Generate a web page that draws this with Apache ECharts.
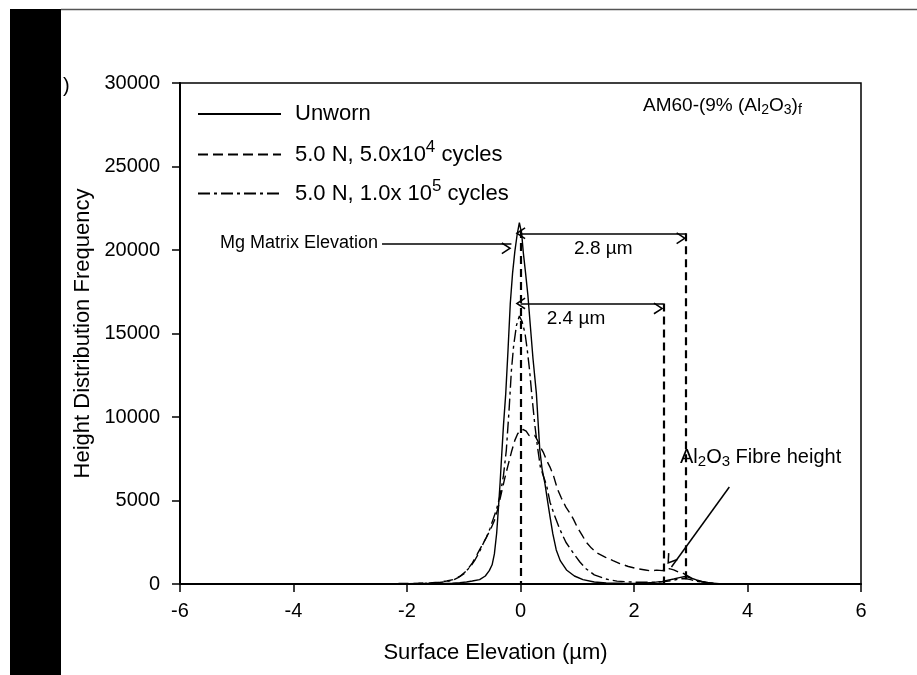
<!DOCTYPE html>
<html><head><meta charset="utf-8">
<script src="https://cdn.jsdelivr.net/npm/echarts@6/dist/echarts.min.js"></script>
<style>html,body{margin:0;padding:0;background:#fff}#c{width:917px;height:675px}</style>
</head><body><div id="c"></div><script>
const FONT = "'Liberation Sans', Arial, sans-serif";

// ---- data ----
const seriesNames = ['Unworn', '5.0 N, 5.0x10^4 cycles', '5.0 N, 1.0x 10^5 cycles'];
const legendLabels = ['Unworn', '5.0 N, 5.0x10{sup|4} cycles', '5.0 N, 1.0x 10{sup|5} cycles'];

const unworn = [[-4.0,5],[-3.6,10],[-3.2,8],[-2.8,15],[-2.4,12],[-2.0,20],[-1.8,25],[-1.6,30],[-1.4,40],[-1.2,50],[-1.07,80],[-0.95,120],[-0.85,180],[-0.72,260],[-0.62,480],[-0.55,800],[-0.5,1150],[-0.46,1800],[-0.42,3040],[-0.39,4500],[-0.36,6030],[-0.33,7800],[-0.3,9500],[-0.26,11400],[-0.22,14000],[-0.18,16800],[-0.14,18600],[-0.1,19900],[-0.06,20900],[-0.02,21640],[0.02,21000],[0.05,19830],[0.09,18600],[0.13,17300],[0.17,15600],[0.22,13500],[0.28,11400],[0.31,9700],[0.34,8030],[0.38,6900],[0.43,6030],[0.48,4900],[0.52,4030],[0.57,3000],[0.63,2040],[0.7,1400],[0.81,840],[0.95,480],[1.1,260],[1.3,120],[1.51,60],[1.8,45],[2.0,40],[2.2,60],[2.35,100],[2.5,160],[2.6,230],[2.7,300],[2.8,380],[2.9,450],[2.95,420],[3.0,360],[3.1,250],[3.2,150],[3.3,90],[3.4,50],[3.5,25],[3.6,10]];

const cycles5e4 = [[-4.0,0],[-3.5,5],[-3.0,10],[-2.5,20],[-2.0,30],[-1.8,45],[-1.6,70],[-1.45,110],[-1.3,180],[-1.19,260],[-1.07,450],[-0.95,800],[-0.85,1250],[-0.76,1800],[-0.68,2300],[-0.6,2800],[-0.53,3250],[-0.46,3800],[-0.4,4500],[-0.34,5400],[-0.28,6300],[-0.22,7100],[-0.16,7900],[-0.1,8600],[-0.05,9000],[0.0,9200],[0.05,9250],[0.1,9150],[0.15,8900],[0.2,8850],[0.25,8900],[0.3,8600],[0.35,8200],[0.4,7900],[0.46,7400],[0.52,7000],[0.58,6500],[0.65,5700],[0.72,5150],[0.8,4600],[0.87,4250],[0.93,3900],[1.0,3400],[1.08,2950],[1.16,2500],[1.25,2150],[1.35,1850],[1.5,1600],[1.63,1400],[1.75,1220],[1.9,1050],[2.05,920],[2.2,840],[2.3,780],[2.4,830],[2.5,800],[2.55,880],[2.62,920],[2.7,850],[2.78,720],[2.86,650],[2.93,520],[3.0,380],[3.1,220],[3.2,120],[3.35,50],[3.5,10]];

const cycles1e5 = [[-4.0,0],[-3.5,5],[-3.0,10],[-2.5,15],[-2.0,20],[-1.7,40],[-1.5,70],[-1.35,120],[-1.2,220],[-1.1,380],[-1.0,600],[-0.95,800],[-0.88,1050],[-0.8,1450],[-0.72,1950],[-0.66,2400],[-0.6,2800],[-0.54,3300],[-0.48,3900],[-0.42,4500],[-0.36,5300],[-0.3,6500],[-0.25,8000],[-0.2,10500],[-0.16,12800],[-0.12,14300],[-0.07,15500],[-0.02,16050],[0.03,15700],[0.08,15000],[0.12,14000],[0.16,12800],[0.2,11300],[0.25,9600],[0.3,8200],[0.35,7000],[0.4,6500],[0.46,5900],[0.52,4900],[0.6,4100],[0.69,3300],[0.8,2500],[0.93,1850],[1.05,1300],[1.16,900],[1.3,550],[1.5,300],[1.7,170],[2.0,110],[2.3,100],[2.5,130],[2.65,200],[2.8,300],[2.9,330],[3.0,260],[3.1,160],[3.25,80],[3.4,30],[3.55,5]];

// annotation positions (data coordinates)
const matrixElev = 0.0;
const fibreElev5e4 = 2.92;
const fibreElev1e5 = 2.52;
const arrowLevel28 = 21000;
const arrowLevel24 = 16800;
const mgArrow = [[-2.44, 20400], [-0.16, 20400]];
const fibreArrow = [[3.68, 5810], [2.66, 1020]];
const annotationLabels = ['2.8 \u00b5m', '2.4 \u00b5m'];

// ---- chart ----
const chevron = 'path://M5,0 L10,8.6 L8.9,9.4 L5,2.6 L1.1,9.4 L0,8.6 Z';
const lineTypes = ['solid', [10, 5], [12, 4, 3, 4]];
const dataSets = [unworn, cycles5e4, cycles1e5];
const chart = echarts.init(document.getElementById('c'), null, {renderer: 'canvas'});

const arrowStyle = {color: '#000', width: 1.5, type: 'solid'};
const vStyle = {color: '#000', width: 2.2, type: [8, 5]};

const series = dataSets.map((d, i) => ({
  name: seriesNames[i], type: 'line', data: d, symbol: 'none', smooth: false,
  lineStyle: {color: '#000', width: 1.4, type: lineTypes[i]},
  itemStyle: {color: '#000'}, z: 3,
  animation: false
}));
series[0].markLine = {
  silent: true, animation: false, symbolSize: [12, 10], symbolOffset: [0, 5],
  label: {show: false},
  data: [
    [{coord: [matrixElev, 21200], symbol: 'none', lineStyle: vStyle}, {coord: [matrixElev, 0], symbol: 'none'}],
    [{coord: [fibreElev5e4, arrowLevel28], symbol: 'none', lineStyle: vStyle}, {coord: [fibreElev5e4, 0], symbol: 'none'}],
    [{coord: [fibreElev1e5, arrowLevel24], symbol: 'none', lineStyle: vStyle}, {coord: [fibreElev1e5, 0], symbol: 'none'}],
    [{coord: [matrixElev, arrowLevel28], symbol: chevron, lineStyle: arrowStyle,
      label: {show: true, position: 'insideMiddleBottom', formatter: annotationLabels[0], color: '#000', fontFamily: FONT, fontSize: 19, distance: 6}},
     {coord: [fibreElev5e4, arrowLevel28], symbol: chevron}],
    [{coord: [matrixElev, arrowLevel24], symbol: chevron, lineStyle: arrowStyle,
      label: {show: true, position: 'insideMiddleBottom', formatter: annotationLabels[1], color: '#000', fontFamily: FONT, fontSize: 19, distance: 6, padding: [0, 32, 0, 0]}},
     {coord: [fibreElev1e5, arrowLevel24], symbol: chevron}],
    [{coord: mgArrow[0], symbol: 'none', lineStyle: arrowStyle}, {coord: mgArrow[1], symbol: chevron}],
    [{coord: fibreArrow[0], symbol: 'none', lineStyle: arrowStyle}, {coord: fibreArrow[1], symbol: chevron}]
  ]
};

const legendTops = [98, 134, 173];
const legends = seriesNames.map((n, i) => ({
  data: [n], left: 192, top: legendTops[i], orient: 'vertical',
  itemWidth: 83, itemHeight: 14,
  itemStyle: {opacity: 0},
  formatter: () => legendLabels[i],
  selectedMode: false,
  textStyle: {fontFamily: FONT, fontSize: 22, color: '#000', padding: [0, 0, 0, 9],
    rich: {sup: {fontFamily: FONT, fontSize: 17, color: '#000', padding: [0, 0, 14, 0]}}}
}));

chart.setOption({
  animation: false,
  backgroundColor: '#fff',
  grid: {left: 180, right: 56, top: 83, bottom: 91, show: true, borderColor: '#000', borderWidth: 1.5, backgroundColor: 'transparent'},
  legend: legends,
  xAxis: {
    type: 'value', min: -6, max: 6, interval: 2,
    name: 'Surface Elevation (\u00b5m)', nameLocation: 'middle', nameGap: 58,
    nameTextStyle: {fontFamily: FONT, fontSize: 22, color: '#000', padding: [0, 50, 0, 0]},
    axisLine: {show: true, onZero: false, lineStyle: {color: '#000', width: 2}},
    axisTick: {show: true, inside: false, length: 8, lineStyle: {color: '#000', width: 1.5}},
    axisLabel: {fontFamily: FONT, fontSize: 20, color: '#000', margin: 17},
    splitLine: {show: false}
  },
  yAxis: {
    type: 'value', min: 0, max: 30000, interval: 5000,
    name: 'Height Distribution Frequency', nameLocation: 'middle', nameGap: 86, nameRotate: 90,
    nameTextStyle: {fontFamily: FONT, fontSize: 22, color: '#000'},
    axisLine: {show: true, onZero: false, lineStyle: {color: '#000', width: 2}},
    axisTick: {show: true, inside: false, length: 8, lineStyle: {color: '#000', width: 1.5}},
    axisLabel: {fontFamily: FONT, fontSize: 20, color: '#000', margin: 20, formatter: v => String(v)},
    splitLine: {show: false}
  },
  graphic: [
    {type: 'rect', left: 10, top: 9, shape: {width: 51, height: 666}, style: {fill: '#000'}, z: 10},
    {type: 'line', shape: {x1: 61, y1: 9.5, x2: 917, y2: 9.5}, style: {stroke: '#555', lineWidth: 1.5}, z: 10},
    {type: 'text', x: 63, y: 86, style: {text: ')', fontFamily: FONT, fontSize: 20, fill: '#000', verticalAlign: 'middle'}, z: 10},
    {type: 'text', x: 378, y: 243, style: {text: 'Mg Matrix Elevation', fontFamily: FONT, fontSize: 18, fill: '#000', align: 'right', verticalAlign: 'middle'}, z: 10},
    {type: 'text', x: 643, y: 106, style: {text: 'AM60-(9% (Al{sub|2}O{sub|3}){sub|f}', fontFamily: FONT, fontSize: 19, fill: '#000', verticalAlign: 'middle',
      rich: {sub: {fontFamily: FONT, fontSize: 14, fill: '#000', padding: [9, 0, 0, 0]}}}, z: 10},
    {type: 'text', x: 680, y: 457, style: {text: 'Al{sub|2}O{sub|3} Fibre height', fontFamily: FONT, fontSize: 20, fill: '#000', verticalAlign: 'middle',
      rich: {sub: {fontFamily: FONT, fontSize: 15, fill: '#000', padding: [9, 0, 0, 0]}}}, z: 10}
  ],
  series: series
});
</script></body></html>
